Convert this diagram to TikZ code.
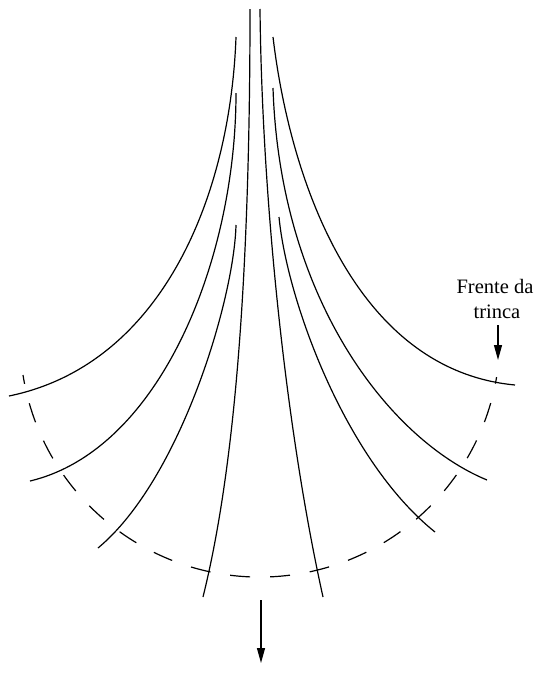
\documentclass[tikz,border=0pt]{standalone}
\usepackage{fontspec}
\setmainfont{Liberation Serif}
\usetikzlibrary{arrows.meta}
\begin{document}
\begin{tikzpicture}[x=1pt,y=-1pt,
  crack/.style={line width=1.2pt,line cap=butt},
  front/.style={line width=1.2pt,dash pattern=on 20pt off 20pt,dash phase=11pt},
  arr/.style={line width=1.2pt,-{Triangle[length=15pt,width=8pt]}},
  lbl/.style={font=\fontsize{20.5}{25}\selectfont,inner sep=0pt,anchor=base}]
\useasboundingbox (0,0) rectangle (539,675);
% left family
\draw[crack] (236,37) .. controls (230,200) and (160,365) .. (9,396);
\draw[crack] (236,93) .. controls (236,260) and (160,450) .. (30,481);
\draw[crack] (236,225) .. controls (234,300) and (180,480) .. (98,548);
\draw[crack] (250,9) .. controls (250,300) and (232,480) .. (203,597);
% right family
\draw[crack] (260,9) .. controls (262,200) and (286,430) .. (323,597);
\draw[crack] (279,217) .. controls (287,300) and (345,460) .. (435,532);
\draw[crack] (273,88) .. controls (280,300) and (390,440) .. (487,480);
\draw[crack] (273,37) .. controls (290,180) and (355,370) .. (515,385);
% crack front
\coordinate (f0) at (23,375);
\draw[front] (f0) arc[start angle=189.1,end angle=350.4,radius=240pt];
% label
\node[lbl] (t1) at (495,293) {Frente da};
\node[lbl] (t2) at (497,318) {trinca};
\coordinate (tip) at (498,360);
\draw[arr] ([yshift=-7pt]t2.south -| tip) -- (tip);
% direction arrow
\coordinate (d0) at (261,600);
\coordinate (d1) at (261,663);
\draw[arr] (d0) -- (d1);
\end{tikzpicture}
\end{document}
